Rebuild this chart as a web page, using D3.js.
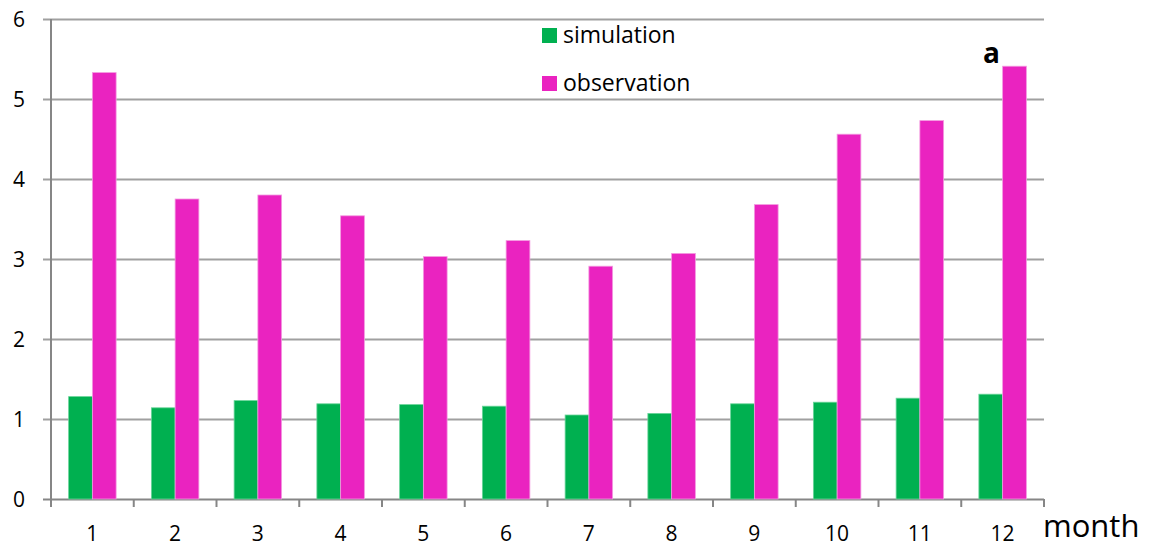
<!DOCTYPE html>
<html lang="en">
  <head>
    <meta charset="UTF-8" />
    <style>
      body { margin: 0; background: #fff; }
      text { font-family: "Open Sans", sans-serif; fill: #000; }
    </style>
    <title>monthly bars</title>
  </head>
  <body>
    <svg width="1154" height="552" id="svg"></svg>
    <script src="https://cdnjs.cloudflare.com/ajax/libs/d3/7.8.5/d3.min.js"></script>
    <script>
      const months = ["1", "2", "3", "4", "5", "6", "7", "8", "9", "10", "11", "12"];
      const simulation = [1.28, 1.14, 1.23, 1.19, 1.18, 1.16, 1.05, 1.07, 1.19, 1.21, 1.26, 1.31];
      const observation = [5.33, 3.75, 3.80, 3.54, 3.03, 3.23, 2.91, 3.07, 3.68, 4.56, 4.73, 5.41];
      const yTicks = [0, 1, 2, 3, 4, 5, 6];
      const seriesNames = ["simulation", "observation"];
      const colors = ["#00b050", "#ea23c0"];

      const svg = d3.select("#svg");
      const margin = { top: 19, left: 51, right: 110, bottom: 53 };
      const width = +svg.attr("width");
      const height = +svg.attr("height");
      const inner_width = width - margin.left - margin.right;
      const inner_height = height - margin.top - margin.bottom;

      const g = svg.append("g")
        .attr("transform", `translate(${margin.left}, ${margin.top})`);

      const x = d3.scaleBand().domain(months).range([0, inner_width]).paddingInner(0).paddingOuter(0);
      const y = d3.scaleLinear().domain([0, 6]).range([inner_height, 0]);
      const barW = x.bandwidth() * 0.287;

      // gridlines
      g.selectAll("line.grid")
        .data(yTicks)
        .join("line")
        .attr("class", "grid")
        .attr("x1", -8)
        .attr("x2", inner_width)
        .attr("y1", (d) => y(d) + 0.5)
        .attr("y2", (d) => y(d) + 0.5)
        .attr("stroke", (d) => (d === 0 ? "#868686" : "#a0a0a0"))
        .attr("stroke-width", 2);

      // y axis line
      g.append("line")
        .attr("x1", 0).attr("x2", 0)
        .attr("y1", 0).attr("y2", inner_height)
        .attr("stroke", "#868686").attr("stroke-width", 2);

      // y labels
      g.selectAll("text.ylab")
        .data(yTicks)
        .join("text")
        .attr("class", "ylab")
        .attr("x", -26)
        .attr("y", (d) => y(d) + 8)
        .attr("text-anchor", "end")
        .attr("font-size", 21)
        .text((d) => d);

      // x ticks
      const xTickPos = months.map((m) => x(m)).concat([inner_width]);
      g.selectAll("line.xtick")
        .data(xTickPos)
        .join("line")
        .attr("class", "xtick")
        .attr("x1", (d) => d).attr("x2", (d) => d)
        .attr("y1", inner_height).attr("y2", inner_height + 8)
        .attr("stroke", "#868686").attr("stroke-width", 2);

      // x labels
      g.selectAll("text.xlab")
        .data(months)
        .join("text")
        .attr("class", "xlab")
        .attr("x", (d) => x(d) + x.bandwidth() / 2)
        .attr("y", inner_height + 42)
        .attr("text-anchor", "middle")
        .attr("font-size", 21)
        .text((d) => d);

      // bars
      const series = [simulation, observation];
      series.forEach((vals, si) => {
        g.selectAll("rect.s" + si)
          .data(vals)
          .join("rect")
          .attr("class", "s" + si)
          .attr("x", (d, i) => x(months[i]) + x.bandwidth() / 2 - barW + si * barW)
          .attr("y", (d) => y(d))
          .attr("width", barW)
          .attr("height", (d) => y(0) - y(d))
          .attr("fill", colors[si])
          .attr("stroke", si === 0 ? "#6ad59a" : "#f39be0")
          .attr("stroke-width", 0.8);
      });

      // legend
      const legend = svg.append("g").attr("transform", "translate(542, 28)");
      seriesNames.forEach((name, i) => {
        legend.append("rect")
          .attr("x", 0).attr("y", i * 48)
          .attr("width", 15).attr("height", 15)
          .attr("fill", colors[i]);
        legend.append("text")
          .attr("x", 21).attr("y", i * 48 + 15)
          .attr("font-size", 23)
          .text(name);
      });

      // panel letter
      svg.append("text")
        .attr("x", 983).attr("y", 63)
        .attr("font-size", 28).attr("font-weight", "bold")
        .text("a");

      // axis title
      svg.append("text")
        .attr("x", 1043).attr("y", 537)
        .attr("font-size", 31)
        .text("month");
    </script>
  </body>
</html>
